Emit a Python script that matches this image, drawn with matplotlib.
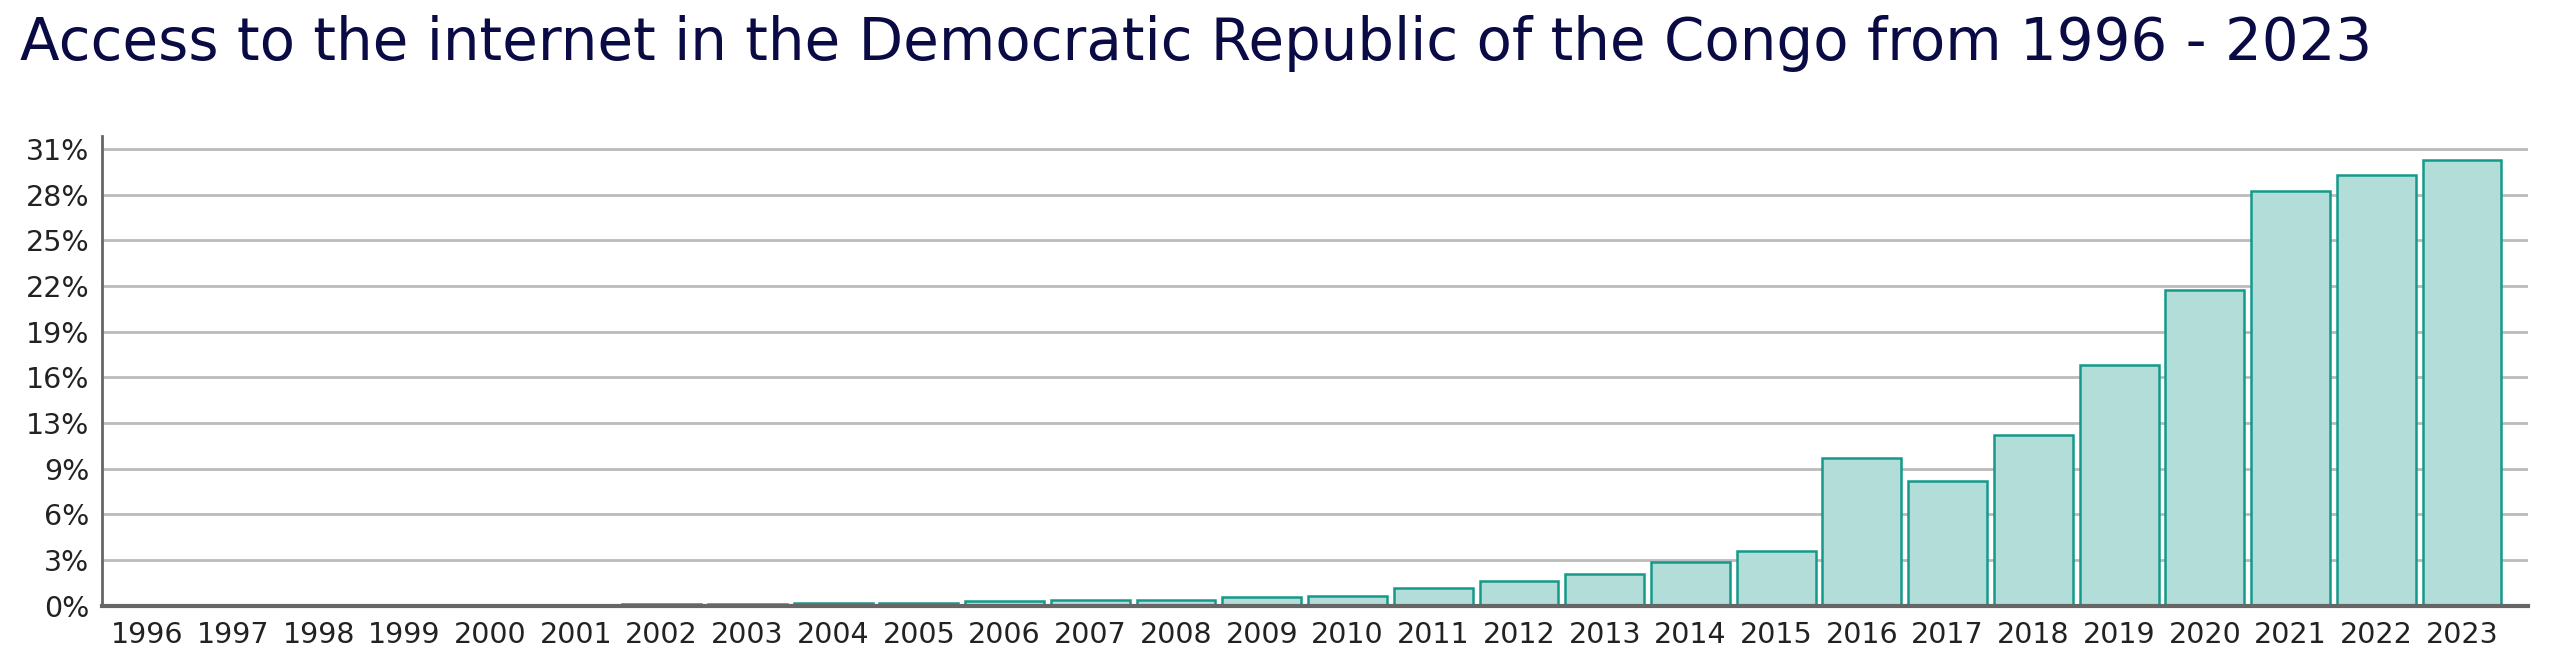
#!/usr/bin/env python3
# -*- coding: utf-8 -*-
"""
刚果民主共和国互联网接入率柱状图 (1996 - 2023)
"""
import matplotlib
matplotlib.use("Agg")
import matplotlib.pyplot as plt

# 年份
years = [str(y) for y in range(1996, 2024)]

# 互联网接入率 (%)
access_pct = [0.0, 0.0, 0.0, 0.0, 0.0, 0.0,
              0.09, 0.13, 0.19, 0.22, 0.30, 0.40, 0.38, 0.58, 0.68,
              1.19, 1.67, 2.19, 2.99, 3.75, 10.09, 8.57, 11.68, 16.48,
              21.60, 28.43, 29.54, 30.54]

# y轴刻度：等距，标签四舍五入
tick_step = 3.13
tick_values = [i * tick_step for i in range(11)]
tick_labels = [f"{round(v)}%" for v in tick_values]

title = "Access to the internet in the Democratic Republic of the Congo from 1996 - 2023"

plt.rcParams['font.family'] = ['DejaVu Sans']

fig = plt.figure(figsize=(25.6, 6.62), dpi=100)
ax = fig.add_axes([0.0398, 0.085, 0.9477, 0.7095])

x = list(range(len(years)))
ax.bar(x, access_pct, width=0.92, color='#b3ddd8', edgecolor='#15998a',
       linewidth=1.8, zorder=3)

ax.set_xlim(-0.53, len(years) - 0.23)
ax.set_ylim(0, 32.18)

ax.set_yticks(tick_values)
ax.set_yticklabels(tick_labels)
ax.set_xticks(x)
ax.set_xticklabels(years)
ax.tick_params(axis='both', length=0, labelsize=20.5, colors='#222222')
ax.tick_params(axis='y', pad=9)
ax.tick_params(axis='x', pad=11)

ax.grid(axis='y', color='#bbbbbb', linewidth=2, zorder=0)
ax.set_axisbelow(True)

for side in ['top', 'right']:
    ax.spines[side].set_visible(False)
ax.spines['left'].set_color('#666666')
ax.spines['left'].set_linewidth(2)
ax.spines['bottom'].set_color('#666666')
ax.spines['bottom'].set_linewidth(3)
ax.spines['bottom'].set_zorder(4)

fig.text(0.008, 0.91, title, fontsize=41.7, color='#0a0a45',
         ha='left', va='baseline')

fig.savefig('out.png', dpi=100)
plt.close(fig)
